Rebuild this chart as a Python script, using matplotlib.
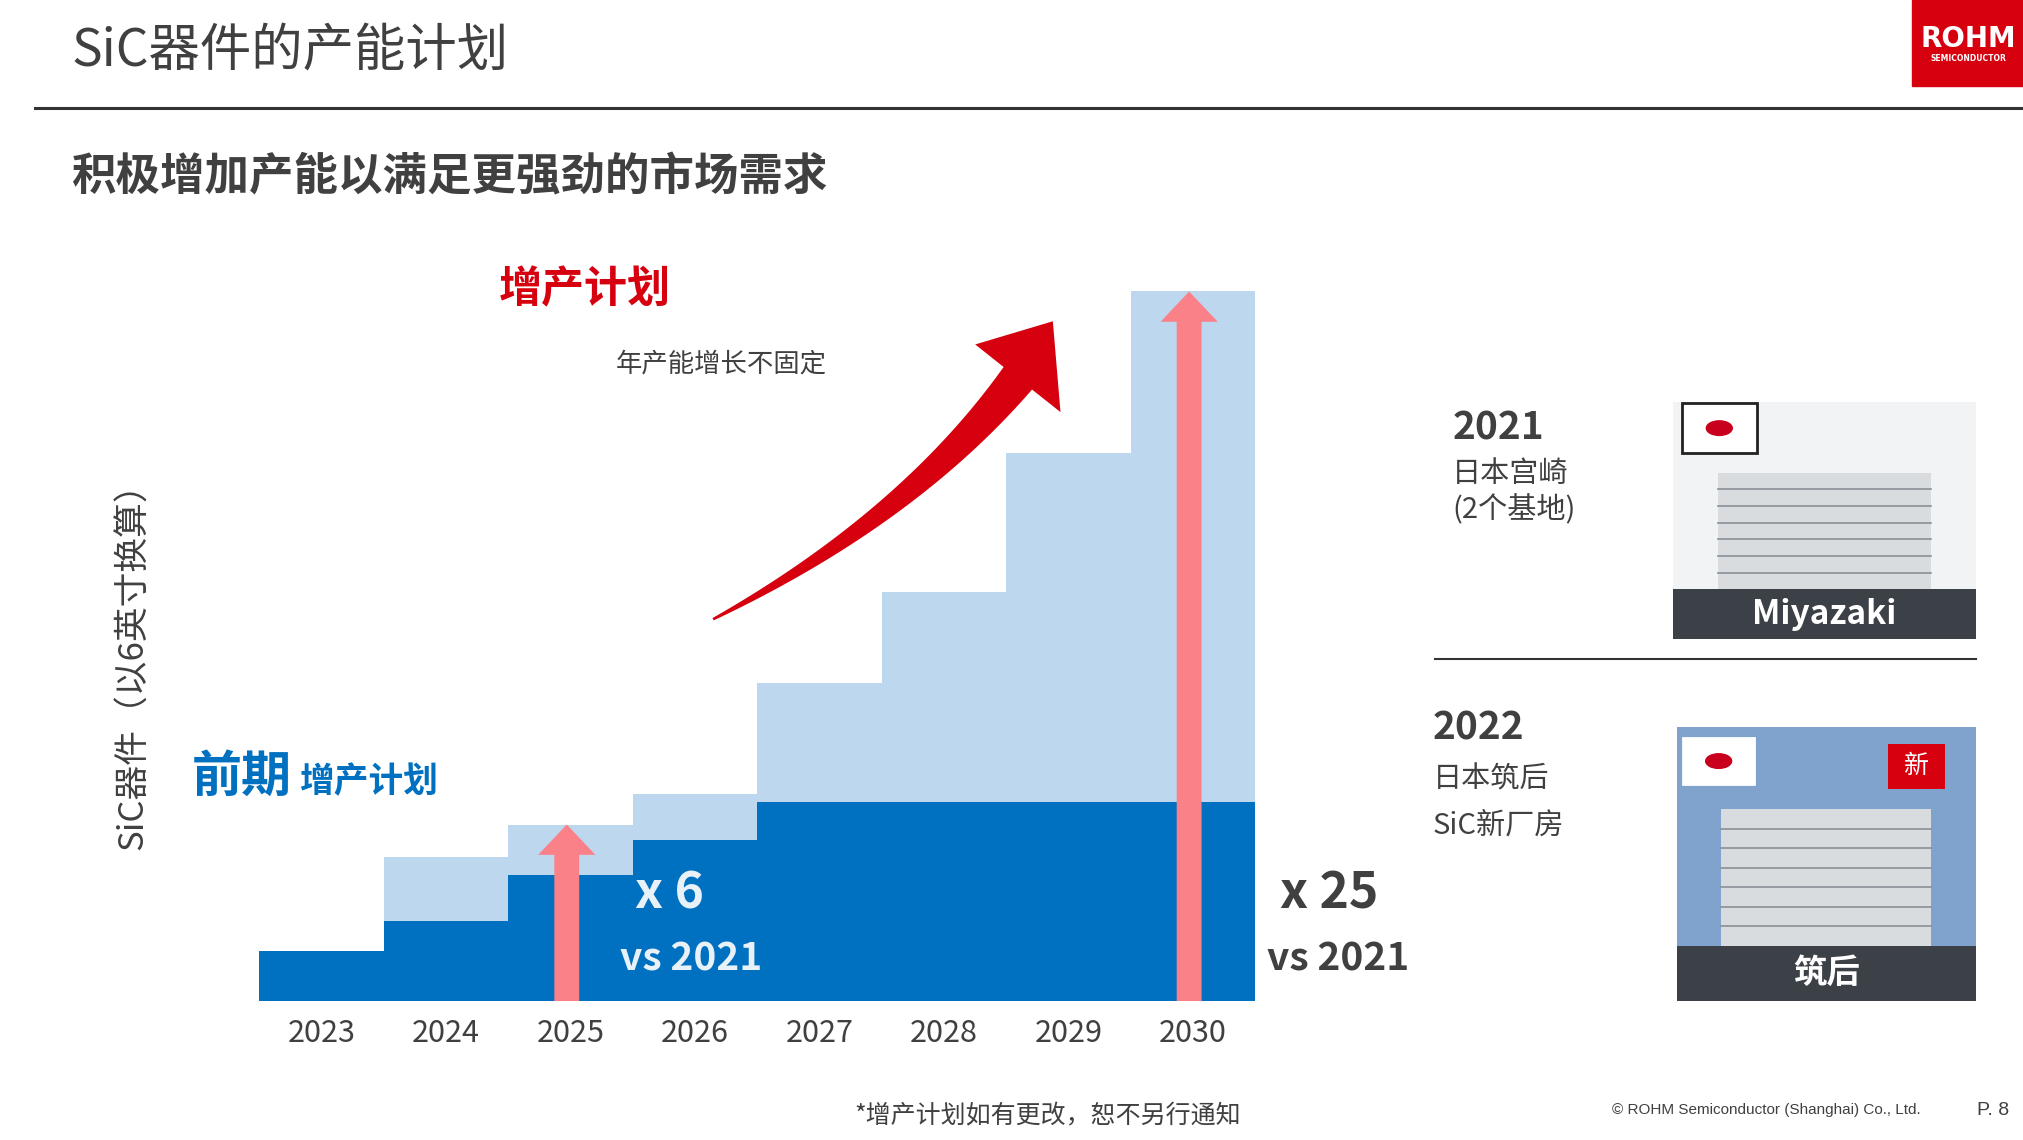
import matplotlib
matplotlib.use("Agg")
import matplotlib.pyplot as plt
import numpy as np
from matplotlib.patches import Rectangle, Polygon, Circle, FancyArrow

plt.rcParams['font.family'] = ['Noto Sans CJK SC', 'DejaVu Sans']

years = ['2023', '2024', '2025', '2026', '2027', '2028', '2029', '2030']
early_plan = [1.0, 1.6, 2.5, 3.2, 3.95, 3.95, 3.95, 3.95]
total_plan = [1.0, 2.85, 3.5, 4.1, 6.3, 8.1, 10.85, 14.05]

DARK = '#0070c0'
LIGHT = '#bdd7ee'
PINK = '#fb8189'
RED = '#d7000f'
GRAY = '#404040'

W, H = 1561, 880
fig = plt.figure(figsize=(20.24, 11.4), dpi=100)
def fx(x): return x / W
def fy(y): return 1 - y / H

# chart
ax = fig.add_axes([fx(200), fy(773), fx(968) - fx(200), (773 - 225) / H])
x = np.arange(len(years))
ax.bar(x, total_plan, width=1.0, align='edge', color=LIGHT, lw=0)
ax.bar(x, early_plan, width=1.0, align='edge', color=DARK, lw=0)
ax.set_xlim(0, len(years)); ax.set_ylim(0, max(total_plan))
ax.set_xticks(x + 0.5); ax.set_xticklabels(years, fontsize=22, color=GRAY)
ax.tick_params(axis='x', length=0, pad=12)
ax.set_yticks([])
for s in ax.spines.values(): s.set_visible(False)
for i in (2, 7):
    hl = 0.6
    ax.add_patch(FancyArrow(i + 0.47, 0, 0, total_plan[i] - hl, width=0.2, head_width=0.46,
                            head_length=hl, length_includes_head=False, color=PINK, lw=0))

bg = fig.add_axes([0, 0, 1, 1]); bg.set_xlim(0, 1); bg.set_ylim(0, 1); bg.axis('off')
bg.patch.set_visible(False)

# header
fig.text(fx(55), fy(40), 'SiC器件的产能计划', fontsize=37, color=GRAY, va='center')
bg.plot([fx(27), 1], [fy(83), fy(83)], color='#333333', lw=2.2)
bg.add_patch(Rectangle((fx(1475), fy(66)), fx(86), 66 / H, color=RED))
fig.text(fx(1518), fy(30), 'ROHM', fontsize=20, color='white', weight='bold', ha='center', va='center', family='DejaVu Sans')
fig.text(fx(1518), fy(45), 'SEMICONDUCTOR', fontsize=5.5, color='white', weight='bold', ha='center', va='center', family='DejaVu Sans')
fig.text(fx(55), fy(137), '积极增加产能以满足更强劲的市场需求', fontsize=32, color=GRAY, weight='bold', va='center')

# red curved arrow (tapered)
t = np.linspace(0, 1, 60)
p0, p1, p2 = np.array([550, 478]), np.array([700, 400]), np.array([785, 292])
pts = ((1 - t)[:, None] ** 2) * p0 + (2 * (1 - t) * t)[:, None] * p1 + (t ** 2)[:, None] * p2
d = np.gradient(pts, axis=0); d /= np.linalg.norm(d, axis=1)[:, None]
nrm = np.stack([-d[:, 1], d[:, 0]], axis=1)
wd = 1 + 13 * t
left = pts + nrm * wd[:, None]; right = pts - nrm * wd[:, None]
tip = np.array([812, 248])
poly = np.vstack([left, [pts[-1] + nrm[-1] * 42], [tip], [pts[-1] - nrm[-1] * 42], right[::-1]])
bg.add_patch(Polygon([(fx(a), fy(b)) for a, b in poly], color=RED, lw=0))

fig.text(fx(385), fy(223), '增产计划', fontsize=31, color=RED, weight='bold', va='center')
fig.text(fx(475), fy(281), '年产能增长不固定', fontsize=19, color=GRAY, va='center')
fig.text(fx(103), fy(508), 'SiC器件（以6英寸换算）', fontsize=25, color=GRAY, rotation=90, ha='center', va='center')
fig.text(fx(148), fy(600), '前期', fontsize=36, color=DARK, weight='bold', va='center')
fig.text(fx(231), fy(603), '增产计划', fontsize=25, color=DARK, weight='bold', va='center')
fig.text(fx(490), fy(690), 'x 6', fontsize=36, color='#e8f0f8', weight='bold', va='center')
fig.text(fx(478), fy(740), 'vs 2021', fontsize=28, color='#e8f0f8', weight='bold', va='center')
fig.text(fx(987), fy(690), 'x 25', fontsize=36, color=GRAY, weight='bold', va='center')
fig.text(fx(977), fy(740), 'vs 2021', fontsize=28, color=GRAY, weight='bold', va='center')

# right panel
def photo(x0, y0, x1, y1, strip_y, label, sky):
    bg.add_patch(Rectangle((fx(x0), fy(y1)), fx(x1 - x0), (y1 - y0) / H, color=sky, lw=0))
    bx0, bx1 = x0 + 0.15 * (x1 - x0), x0 + 0.85 * (x1 - x0)
    by0 = y0 + 0.3 * (y1 - y0)
    bg.add_patch(Rectangle((fx(bx0), fy(strip_y)), fx(bx1 - bx0), (strip_y - by0) / H, color='#d9dcdf', lw=0))
    for k in range(6):
        yy = by0 + (k + 1) * (strip_y - by0) / 7
        bg.plot([fx(bx0), fx(bx1)], [fy(yy), fy(yy)], color='#8a9097', lw=1.2)
    bg.add_patch(Rectangle((fx(x0), fy(y1)), fx(x1 - x0), (y1 - strip_y) / H, color='#3b4147', lw=0))
    fig.text(fx((x0 + x1) / 2), fy((strip_y + y1) / 2), label, fontsize=24, color='white', weight='bold', ha='center', va='center')

def flag(x0, y0, x1, y1, border):
    bg.add_patch(Rectangle((fx(x0), fy(y1)), fx(x1 - x0), (y1 - y0) / H, facecolor='white',
                           edgecolor='#222222' if border else 'white', lw=2))
    cx, cy = (x0 + x1) / 2, (y0 + y1) / 2
    bg.add_patch(Circle((fx(cx), fy(cy)), fx(10), color='#c8001e'))

fig.text(fx(1120), fy(330), '2021', fontsize=28, color=GRAY, weight='bold', va='center')
fig.text(fx(1120), fy(366), '日本宫崎', fontsize=21, color=GRAY, va='center')
fig.text(fx(1120), fy(394), '(2个基地)', fontsize=21, color=GRAY, va='center')
photo(1290, 310, 1524, 493, 455, 'Miyazaki', '#f2f3f4')
flag(1297, 311, 1355, 350, True)
bg.plot([fx(1107), fx(1524)], [fy(509), fy(509)], color='#333333', lw=1.5)

fig.text(fx(1105), fy(562), '2022', fontsize=28, color=GRAY, weight='bold', va='center')
fig.text(fx(1105), fy(602), '日本筑后', fontsize=21, color=GRAY, va='center')
fig.text(fx(1105), fy(637), 'SiC新厂房', fontsize=21, color=GRAY, va='center')
photo(1293, 561, 1524, 773, 730, '筑后', '#7fa3cc')
flag(1298, 570, 1353, 605, False)
bg.add_patch(Rectangle((fx(1456), fy(609)), fx(44), 35 / H, color=RED, lw=0))
fig.text(fx(1478), fy(591), '新', fontsize=18, color='white', ha='center', va='center')

fig.text(fx(808), fy(862), '*增产计划如有更改，恕不另行通知', fontsize=18, color=GRAY, ha='center', va='center')
fig.text(fx(1243), fy(857), '© ROHM Semiconductor (Shanghai) Co., Ltd.', fontsize=11, color=GRAY, va='center', family='Liberation Sans')
fig.text(fx(1525), fy(857), 'P. 8', fontsize=14, color=GRAY, va='center', family='Liberation Sans')

fig.savefig('out.png', dpi=100)
